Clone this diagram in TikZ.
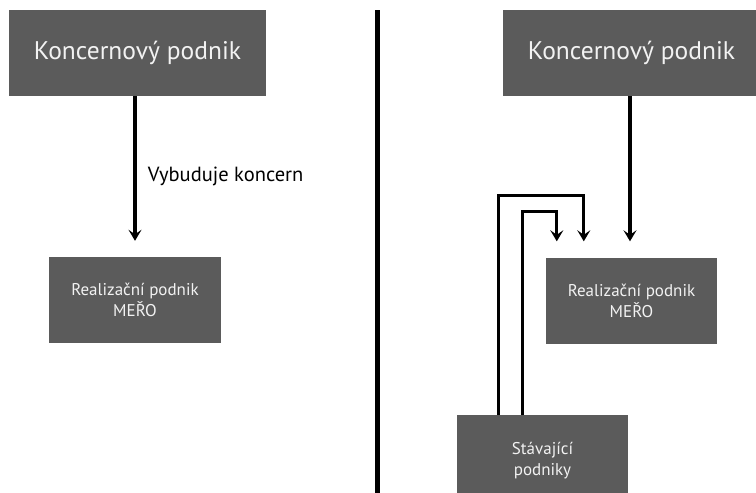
\documentclass[tikz,border=0pt]{standalone}
\usepackage{fontspec}
\setmainfont{PT Sans}
\usepackage{tikz}
\usetikzlibrary{arrows.meta,positioning,calc}
\definecolor{boxgray}{HTML}{5B5B5B}
\definecolor{boxtext}{HTML}{F2F2F2}
\tikzset{
  firma/.style={
    draw = none,
    fill = boxgray,
    text = boxtext,
    align = center,
    inner sep = 0pt
  },
  bigfirma/.style={
    firma,
    minimum width = 257,
    minimum height = 86,
    font = \fontsize{25.5}{30}\selectfont
  },
  smallfirma/.style={
    firma,
    minimum width = 172,
    minimum height = 86,
    font = \fontsize{17}{21}\selectfont
  },
  sipka/.style={
    line width = 3.2pt,
    -{Stealth[length=11pt,width=13pt,inset=4.5pt]}
  }
}

\begin{document}
\begin{tikzpicture}[x=1pt,y=-1pt]
        \useasboundingbox (0,0) rectangle (756,493);
        \clip (0,0) rectangle (756,493);
        % levá strana
        \node[bigfirma] (kon1) at (137.5,53) {Koncernový podnik};
        \node[smallfirma] (real1) at (135,300) {Realizační podnik\\MEŘO};
        \draw[sipka] (kon1.south -| real1.north) -- ([yshift=16pt]real1.north)
            node[midway, right=8pt, font=\fontsize{20.5}{24}\selectfont, yshift=-8pt] (lab) {Vybuduje koncern};
        % dělicí čára
        \draw[line width=5pt] (377,10) -- (377,493);
        % pravá strana
        \node[bigfirma] (kon2) at (631.5,53) {Koncernový podnik};
        \node[smallfirma, minimum width=171] (real2) at (631.5,300.5) {Realizační podnik\\MEŘO};
        \node[smallfirma, minimum width=171, minimum height=92] (stav) at (542.5,461) {Stávající\\podniky};
        \draw[sipka] ([xshift=-1.5pt]kon2.south) -- ([xshift=-1.5pt,yshift=16pt]real2.north);
        \draw[sipka] ([xshift=42pt]stav.north west) -- ++(0,-219) -| ([xshift=38pt,yshift=16pt]real2.north west);
        \draw[sipka] ([xshift=66pt]stav.north west) -- ++(0,-203) -| ([xshift=11pt,yshift=16pt]real2.north west);
\end{tikzpicture}
\end{document}
